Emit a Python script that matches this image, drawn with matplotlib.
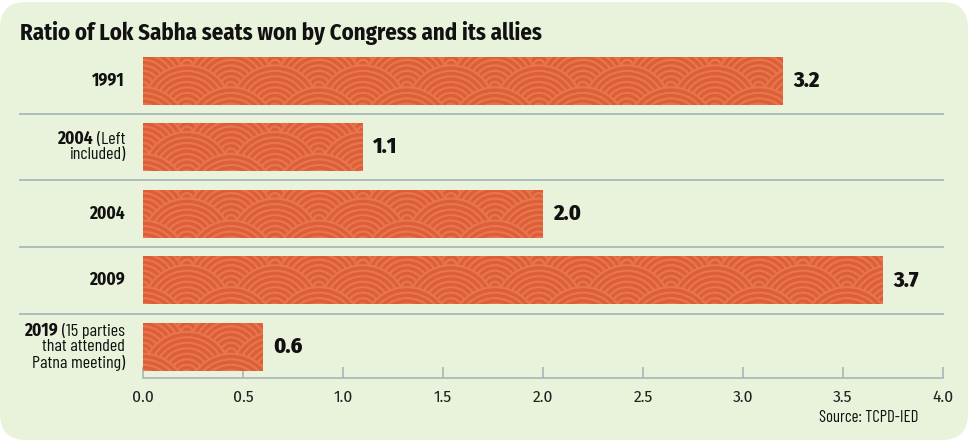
import matplotlib
matplotlib.use("Agg")
import matplotlib.pyplot as plt
from matplotlib.patches import FancyBboxPatch, Circle
from matplotlib.collections import PatchCollection
from matplotlib.transforms import IdentityTransform

# data
years_bold = ["1991", "2004", "2004", "2009", "2019"]
years_rest = [[""], ["(Left", "included)"], [""], [""],
              ["(15 parties", "that attended", "Patna meeting)"]]
ratios = [3.2, 1.1, 2.0, 3.7, 0.6]
xticks = [0.0, 0.5, 1.0, 1.5, 2.0, 2.5, 3.0, 3.5, 4.0]

BG = "#e9f2da"
BAR = "#dd5e38"
LINE = "#e8764d"
GRID = "#a7b8b6"
FONT = ["Fira Sans Condensed", "Barlow Condensed", "Archivo Narrow", "DejaVu Sans"]
FONT_XC = ["Barlow Condensed", "Fira Sans Extra Condensed", "Fira Sans Condensed", "DejaVu Sans"]
plt.rcParams["font.family"] = FONT

W, H = 969, 442
fig = plt.figure(figsize=(W / 100, H / 100), dpi=100, facecolor="white")

# rounded background card (pixel coords)
card = FancyBboxPatch((0, 2), W - 1, H - 4, boxstyle="round,pad=0,rounding_size=26",
                      transform=IdentityTransform(), facecolor=BG, edgecolor="none",
                      zorder=-10)
fig.patches.append(card)

ax = fig.add_axes([143 / W, 64 / H, 800 / W, 330.75 / H])
ax.set_facecolor("none")
for s in ["top", "right", "left"]:
    ax.spines[s].set_visible(False)
ax.spines["bottom"].set_color(GRID)
ax.spines["bottom"].set_linewidth(1.2)

ypos = list(range(len(ratios)))
bars = ax.barh(ypos, ratios, height=0.72, color=BAR, zorder=2)
ax.set_xlim(0, 4.0)
ax.set_ylim(4.466, -0.5)
ax.set_xticks(xticks)
ax.set_xticklabels([f"{t:.1f}" for t in xticks], fontsize=12.5, color="#222222")
ax.tick_params(axis="x", direction="in", length=8, width=1.2, color=GRID, pad=8)
ax.set_yticks([])

# separators
for y in [0.5, 1.5, 2.5, 3.5]:
    ax.plot([-0.615, 4.0], [y, y], color=GRID, lw=1.3, clip_on=False, zorder=1)

# value labels
for y, v in zip(ypos, ratios):
    ax.text(v + 0.05, y, f"{v:.1f}", va="center", ha="left", fontsize=16,
            fontweight="heavy", color="#111111")

fig.canvas.draw()

# seigaiha pattern drawn in pixel space, clipped to bars
R = 44.0
step_y = R / 2.0
rings = 8
for b in bars:
    bb = b.get_window_extent()
    allp, fcs = [], []
    j = 0
    yc = bb.y1 + R * 0.3
    while yc > bb.y0 - R:
        xc = bb.x0 - 2 * R + (R if j % 2 else 0.0)
        while xc < bb.x1 + 2 * R:
            for k in range(rings):
                allp.append(Circle((xc, yc), R * (1 - k / rings)))
                fcs.append(BAR if k == 0 else "none")
            xc += 2 * R
        j += 1
        yc -= step_y
    coll = PatchCollection(allp, transform=IdentityTransform(), facecolors=fcs,
                           edgecolors=LINE, linewidths=1.6, zorder=3)
    coll.set_clip_path(b)
    fig.add_artist(coll)

# category labels: bold year + regular remainder, right aligned
renderer = fig.canvas.get_renderer()
lx = -0.09
lh = 0.235
gap = 4 / 200  # 4 px between bold year and regular text
for y, yb, rest in zip(ypos, years_bold, years_rest):
    n = len(rest)
    y0 = y - (n - 1) * lh / 2
    for i, line in enumerate(rest):
        yy = y0 + i * lh
        if i == 0:
            if line:
                t = ax.text(lx, yy, line, ha="right", va="center", fontsize=13,
                            color="#111111", clip_on=False, family=FONT_XC)
                ext = t.get_window_extent(renderer)
                xdata = ax.transData.inverted().transform((ext.x0, 0))[0] - gap
            else:
                xdata = lx
            ax.text(xdata, yy, yb, ha="right", va="center", fontsize=12.5,
                    fontweight="bold", color="#111111", clip_on=False)
        else:
            ax.text(lx, yy, line, ha="right", va="center", fontsize=13,
                    color="#111111", clip_on=False, family=FONT_XC)

fig.text(20 / W, 1 - 33 / H, "Ratio of Lok Sabha seats won by Congress and its allies",
         ha="left", va="center", fontsize=16.4, fontweight="bold", color="#111111")
fig.text(918 / W, 1 - 418 / H, "Source: TCPD-IED", ha="right", va="center",
         fontsize=12, color="#111111", family=FONT_XC)

fig.savefig("out.png", dpi=100, facecolor="white")
